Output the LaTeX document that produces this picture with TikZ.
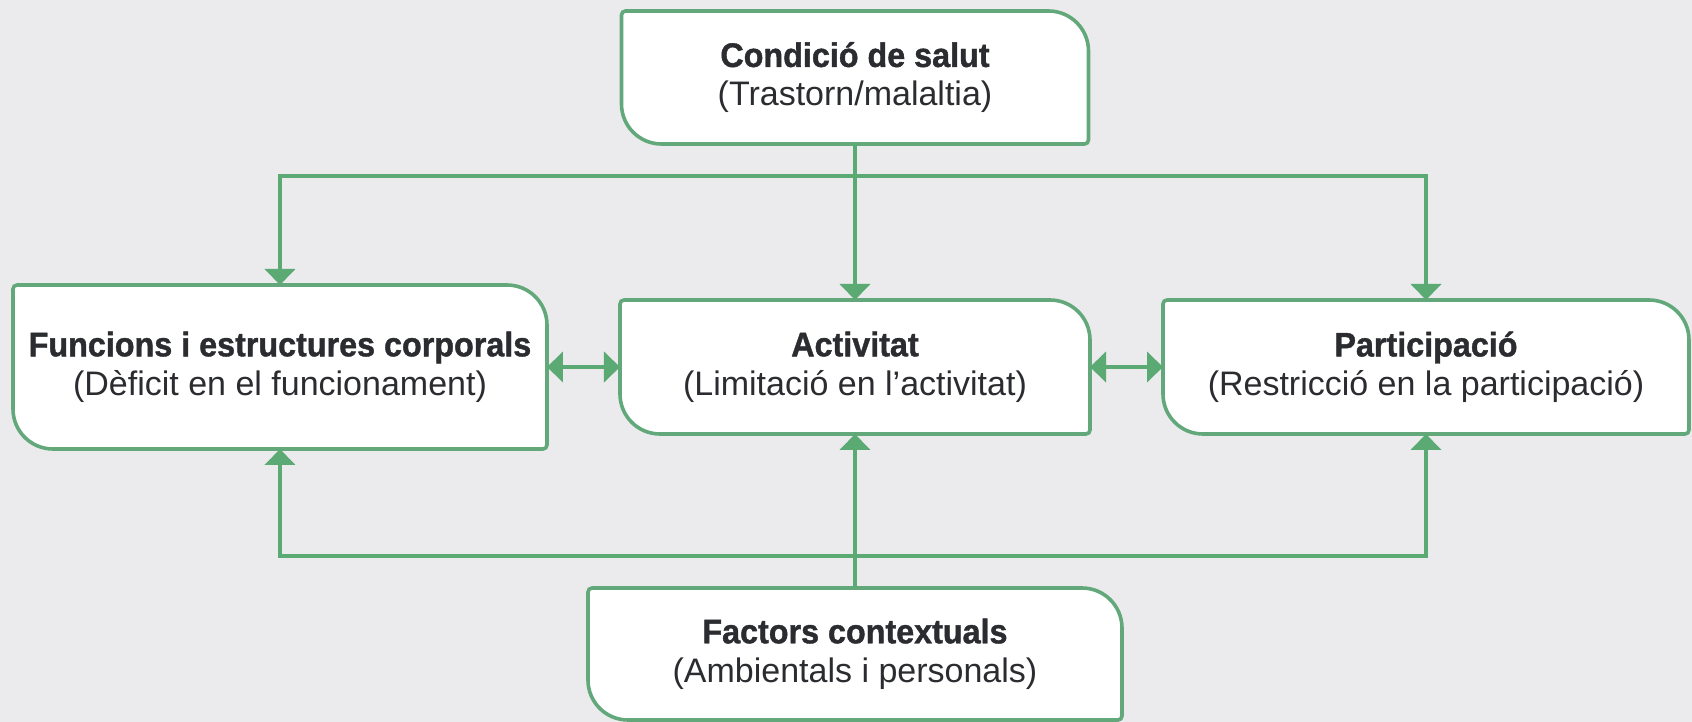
\documentclass[tikz,border=0pt]{standalone}
\usepackage{fontspec}
\setmainfont{Liberation Sans}
\newfontfamily\headfont[FakeStretch=0.95,FakeBold=1.2]{Liberation Sans Bold}
\usetikzlibrary{positioning,arrows.meta,backgrounds}
\definecolor{bggray}{HTML}{EBEBED}
\definecolor{boxgreen}{HTML}{62A87A}
\definecolor{arrowgreen}{HTML}{5BAA73}
\definecolor{textdark}{HTML}{2B2C30}
\tikzset{block/.style={
        inner sep=0pt,
        outer sep=0pt,
        align=center,
        text=textdark,
        font=\fontsize{17}{19.5}\selectfont},
    link/.style={
        draw=arrowgreen,
        line width=2pt,
        -{Triangle[width=15pt,length=8pt]}},
    dlink/.style={
        link,
        {Triangle[width=15pt,length=8pt]}-{Triangle[width=15pt,length=8pt]}},
    rim/.style={
        draw=boxgreen,
        line width=1.8pt,
        fill=white} }
% outline: top-right and bottom-left corners rounded
\newcommand{\blockrim}[1]{%
  \draw[rim] (#1.north)
    [rounded corners=20pt] -- (#1.north east)
    [rounded corners=2pt] -- (#1.south east)
    [rounded corners=20pt] -- (#1.south west)
    [rounded corners=2pt] -- (#1.north west) -- cycle;}

\begin{document}
\begin{tikzpicture}

\useasboundingbox (-427.5pt,-177.5pt) rectangle (418.5pt,183.5pt);

\node[block, minimum width=235pt, minimum height=67pt] (act)
{{\headfont Activitat}\\(Limitació en l’activitat)};

\node[block, minimum width=267pt, minimum height=82pt] (fun)
[left=36.5pt of act]
{{\headfont Funcions i estructures corporals}\\(Dèficit en el funcionament)};

\node[block, minimum width=263pt, minimum height=67pt] (par)
[right=36.5pt of act]
{{\headfont Participació}\\(Restricció en la participació)};

\node[block, minimum width=233.5pt, minimum height=66.5pt] (cond)
[above=78pt of act]
{{\headfont Condició de salut}\\(Trastorn/malaltia)};

\node[block, minimum width=267pt, minimum height=66pt] (fac)
[below=77pt of act]
{{\headfont Factors contextuals}\\(Ambientals i personals)};

\coordinate (split) at ([yshift=-16pt]cond.south);
\coordinate (join) at ([yshift=16pt]fac.north);

\begin{scope}[on background layer]
\fill[bggray] (-427.5pt,-177.5pt) rectangle (418.5pt,183.5pt);
\blockrim{act}
\blockrim{fun}
\blockrim{par}
\blockrim{cond}
\blockrim{fac}
\end{scope}

\draw[link] (cond) -- (act);
\draw[link] (fac) -- (act);
\draw[link] (split) -| (fun.north);
\draw[link] (split) -| (par.north);
\draw[link] (join) -| (fun.south);
\draw[link] (join) -| (par.south);
\draw[dlink] (fun) -- (act);
\draw[dlink] (act) -- (par);

\end{tikzpicture}
\end{document}
